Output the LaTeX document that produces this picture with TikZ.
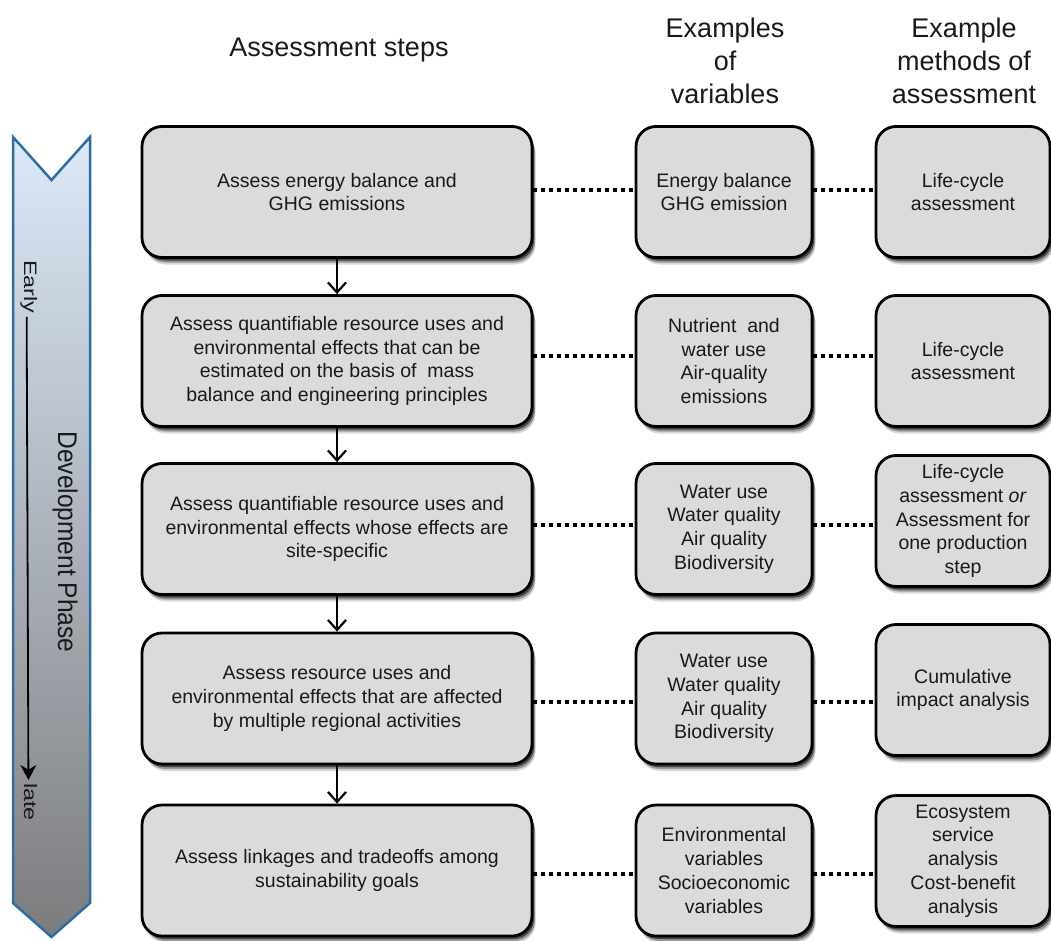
\documentclass[tikz,border=0pt]{standalone}
\usepackage{fontspec}
\setmainfont{Liberation Sans}
\newfontfamily\sidewide[FakeStretch=1.3]{Liberation Sans}
\newfontfamily\sidenarrow[FakeStretch=0.91]{Liberation Sans}
\usetikzlibrary{arrows.meta,shadows}
\definecolor{boxfill}{RGB}{220,219,218}
\definecolor{bannerline}{RGB}{46,110,165}
\definecolor{bantop}{RGB}{220,233,248}
\definecolor{banmid}{RGB}{180,196,217}
\definecolor{banbot}{RGB}{124,124,126}
\definecolor{txt}{RGB}{25,25,25}
\begin{document}
\begin{tikzpicture}[x=1pt,y=-1pt,
  stepbox/.style={draw=black, line width=2.8pt, rounded corners=20pt, fill=boxfill,
    minimum width=390pt, minimum height=131pt, align=center, text=txt,
    font=\fontsize{19.5}{23.7}\selectfont, inner sep=4pt,
    drop shadow={shadow xshift=3.5pt, shadow yshift=-7pt, opacity=0.15, fill=black},
    drop shadow={shadow xshift=3pt, shadow yshift=-5pt, opacity=0.3, fill=black},
    drop shadow={shadow xshift=2pt, shadow yshift=-3pt, opacity=0.55, fill=black}},
  varbox/.style={stepbox, minimum width=176pt},
  methbox/.style={stepbox, minimum width=174pt},
  head/.style={align=center, text=txt, font=\fontsize{27}{33}\selectfont},
  flow/.style={line width=2.2pt, -{Straight Barb[length=10pt,width=18pt,line width=2.2pt]}},
  dotline/.style={line width=3.5pt, dash pattern=on 3.5pt off 4.5pt},
  sideshort/.style={rotate=-90, anchor=base, text=txt, inner sep=3pt, font=\sidewide\fontsize{18}{21}\selectfont},
  sidelong/.style={rotate=-90, anchor=base, text=txt, inner sep=2pt, font=\sidenarrow\fontsize{27}{32}\selectfont}
]
\useasboundingbox (0,0) rectangle (1051,941);

% banner
\shadedraw[top color=bantop, middle color=banmid, bottom color=banbot,
  draw=bannerline, line width=2.5pt, line join=miter]
  (13,137) -- (51.5,180) -- (90,137) -- (90,903) -- (51.5,937) -- (13,903) -- cycle;
\node[sideshort] (early) at (24,287) {Early};
\node[sideshort] (late) at (24,802) {late};
\node[sidelong] (dev) at (58,542) {Development Phase};
\draw[line width=1.8pt, -{Stealth[length=15pt,width=16pt]}]
  ([xshift=-2pt]early.east) -- ([xshift=-2pt]late.west);

% headers
\node[head] (h1) at (339,50) {Assessment steps};
\node[head] (h2) at (725,61) {Examples\\of\\variables};
\node[head] (h3) at (964,61) {Example\\methods of\\assessment};

% step boxes
\node[stepbox] (L1) at (337,192) {Assess energy balance and\\GHG emissions};
\node[stepbox] (L2) at (337,361) {Assess quantifiable resource uses and\\environmental effects that can be\\estimated on the basis of\ \ mass\\balance and engineering principles};
\node[stepbox] (L3) at (337,529) {Assess quantifiable resource uses and\\environmental effects whose effects are\\site-specific};
\node[stepbox] (L4) at (337,698.5) {Assess resource uses and\\environmental effects that are affected\\by multiple regional activities};
\node[stepbox] (L5) at (337,870.5) {Assess linkages and tradeoffs among\\sustainability goals};

% variable boxes
\node[varbox] (M1) at (724,192) {Energy balance\\GHG emission};
\node[varbox] (M2) at (724,361) {Nutrient\ \ and\\water use\\Air-quality\\emissions};
\node[varbox] (M3) at (724,529) {Water use\\Water quality\\Air quality\\Biodiversity};
\node[varbox] (M4) at (724,698.5) {Water use\\Water quality\\Air quality\\Biodiversity};
\node[varbox] (M5) at (724,870.5) {Environmental\\variables\\Socioeconomic\\variables};

% method boxes
\node[methbox] (R1) at (963,192) {Life-cycle\\assessment};
\node[methbox] (R2) at (963,361) {Life-cycle\\assessment};
\node[methbox] (R3) at (963,521) {Life-cycle\\assessment \textit{or}\\Assessment for\\one production\\step};
\node[methbox] (R4) at (963,690) {Cumulative\\impact analysis};
\node[methbox] (R5) at (963,861) {Ecosystem\\service\\analysis\\Cost-benefit\\analysis};

% flow arrows
\draw[flow] (L1) -- (L2);
\draw[flow] (L2) -- (L3);
\draw[flow] (L3) -- (L4);
\draw[flow] (L4) -- (L5);

% dotted links
\coordinate (d1) at (0,190);
\coordinate (d2) at (0,356);
\coordinate (d3) at (0,525);
\coordinate (d4) at (0,702);
\coordinate (d5) at (0,874);
\foreach \i in {1,...,5}{
  \draw[dotline] (L\i.east |- d\i) -- (M\i.west |- d\i);
  \draw[dotline] (M\i.east |- d\i) -- (R\i.west |- d\i);
}
\end{tikzpicture}
\end{document}
